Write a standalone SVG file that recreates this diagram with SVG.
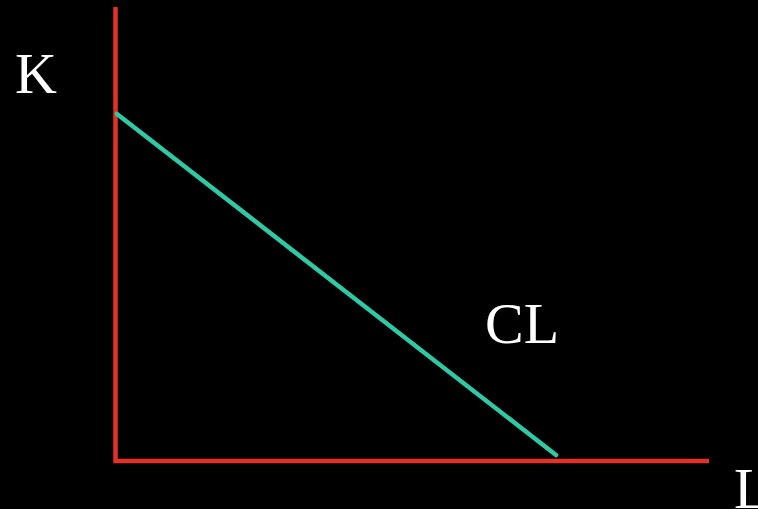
<svg xmlns="http://www.w3.org/2000/svg" width="758" height="509" viewBox="0 0 758 509">
<style>
.axis{stroke:#e53029;stroke-width:4.5;fill:none}
.curve{stroke:#2fc9a6;stroke-width:4.5;fill:none;stroke-linecap:round}
.lbl{font-family:"Liberation Serif","Times New Roman",serif;font-size:58px;fill:#ffffff}
</style>
<rect width="758" height="509" fill="#000000"/>
<g id="connectors">
<path id="axes" class="axis" d="M115.5 7 V461 H709"/>
<line id="cl-line" class="curve" x1="117" y1="114" x2="556" y2="455"/>
</g>
<g id="label-k"><text class="lbl" x="15" y="93">K</text></g>
<g id="label-cl"><text class="lbl" x="485" y="343">CL</text></g>
<g id="label-l"><text class="lbl" x="734" y="508">L</text></g>
</svg>
